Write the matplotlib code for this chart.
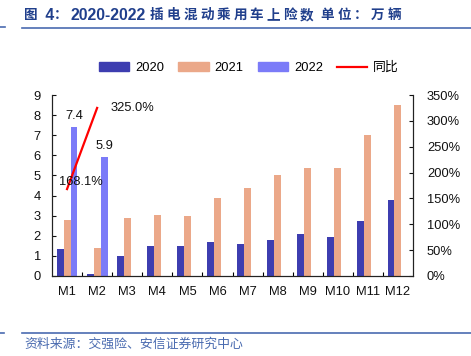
import matplotlib
matplotlib.use("Agg")
import matplotlib.pyplot as plt
import numpy as np
from matplotlib.lines import Line2D
from matplotlib.patches import Patch

plt.rcParams['font.family'] = ['Liberation Sans', 'Noto Sans CJK SC', 'DejaVu Sans']

months = ['M1', 'M2', 'M3', 'M4', 'M5', 'M6', 'M7', 'M8', 'M9', 'M10', 'M11', 'M12']
s2020 = [1.32, 0.12, 1.0, 1.48, 1.48, 1.71, 1.59, 1.77, 2.10, 1.94, 2.72, 3.80]
s2021 = [2.78, 1.38, 2.87, 3.03, 2.98, 3.88, 4.36, 5.02, 5.37, 5.37, 7.01, 8.51]
s2022 = [7.4, 5.9]
yoy = [168.1, 325.0]
series_names = ['2020', '2021', '2022', '同比']
title_pieces = ['图', ' 4', '：', '2020-2022', ' ', '插电混动乘用车上险数', ' ', '单位：万辆']
source_text = '资料来源：交强险、安信证券研究中心'

c2020 = '#3D3DB0'
c2021 = '#EBA889'
c2022 = '#7B7BF8'
cline = '#FF0000'
blue_txt = '#203F8C'
rule_col = '#4A6BB0'

W, H = 471, 356
fig = plt.figure(figsize=(W / 100, H / 100), dpi=100)

ax = fig.add_axes([52 / W, 1 - 276 / H, (413 - 52) / W, (276 - 95) / H])
ax2 = ax.twinx()

x = np.arange(len(months))
bw = 0.23
ax.bar(x - bw, s2020, bw, color=c2020, zorder=2)
ax.bar(x, s2021, bw, color=c2021, zorder=2)
x22 = x[:len(s2022)]
ax.bar(x22 + bw, s2022, bw, color=c2022, zorder=2)
for xi, v in zip(x22, s2022):
    ax.annotate(f'{v:.1f}', (xi + bw, v), xytext=(0, 5), textcoords='offset pixels',
                ha='center', va='bottom', fontsize=9.3, color='#111111')

ax.set_xlim(-0.5, len(months) - 0.5)
ax.set_ylim(0, 9)
ax.set_yticks(np.arange(0, 10, 1))
ax2.set_ylim(0, 350)
ax2.set_yticks(np.arange(0, 351, 50))
ax2.set_yticklabels([f'{int(t)}%' for t in np.arange(0, 351, 50)])

ax2.plot(x[:len(yoy)], yoy, color=cline, lw=1.6, zorder=3)
ax2.annotate(f'{yoy[0]:.1f}%', (x[0], yoy[0]), xytext=(14, 7), textcoords='offset pixels',
             ha='center', va='center', fontsize=9.3, color='#111111')
ax2.annotate(f'{yoy[1]:.1f}%', (x[1], yoy[1]), xytext=(35, 0), textcoords='offset pixels',
             ha='center', va='center', fontsize=9.3, color='#111111')

ax.set_xticks(x)
ax.set_xticklabels(months)
ax.set_xticks(np.arange(0.5, len(months) - 0.5, 1), minor=True)
ax.tick_params(axis='x', which='major', length=0, labelsize=9.3, pad=7.5, colors='#111111')
ax.tick_params(axis='x', which='minor', length=3, width=0.8, direction='in')
ax.tick_params(axis='y', length=3, width=0.8, direction='in', labelsize=9.3,
               colors='#111111', pad=8)
ax2.tick_params(axis='y', length=3, width=0.8, direction='in', labelsize=9.3,
                colors='#111111', pad=10)

for a in (ax, ax2):
    a.spines['top'].set_visible(False)
    for s in ('left', 'right', 'bottom'):
        a.spines[s].set_color('#222222')
        a.spines[s].set_linewidth(0.8)

handles = [Patch(color=c2020), Patch(color=c2021), Patch(color=c2022),
           Line2D([0], [0], color=cline, lw=1.6)]
fig.legend(handles, series_names, loc='center', bbox_to_anchor=(249 / W, 1 - 68 / H),
           ncol=4, frameon=False, fontsize=9.3, handlelength=2.35, handleheight=0.6,
           handletextpad=0.45, columnspacing=1.1, borderaxespad=0)

# title laid out piece by piece (Latin bigger, CJK letter-spaced)
renderer = fig.canvas.get_renderer()
cur = 24.0
ty = 1 - 15 / H
for piece in title_pieces:
    is_latin = all(ord(c) < 128 for c in piece)
    chars = [piece] if is_latin else list(piece)
    for ch in chars:
        t = fig.text(cur / W, ty, ch, ha='left', va='center', color=blue_txt,
                     fontweight='bold', fontsize=11.3 if is_latin else 9.8,
                     family=['Liberation Sans', 'Noto Sans CJK SC', 'DejaVu Sans'])
        wpx = t.get_window_extent(renderer).width
        cur += wpx + (0 if is_latin else 3.0)

fig.add_artist(Line2D([22 / W, 1], [1 - 28 / H, 1 - 28 / H], color=rule_col, lw=1.2))
fig.add_artist(Line2D([0, 5 / W], [1 - 27 / H, 1 - 27 / H], color=rule_col, lw=1.2))
fig.add_artist(Line2D([22 / W, 1], [1 - 333 / H, 1 - 333 / H], color=rule_col, lw=1.2))
fig.add_artist(Line2D([0, 4 / W], [1 - 333 / H, 1 - 333 / H], color=rule_col, lw=1.2))
fig.text(24 / W, 1 - 345 / H, source_text, ha='left', va='center',
         fontsize=9.3, color=rule_col, style='italic')

fig.savefig('out.png', dpi=100)
